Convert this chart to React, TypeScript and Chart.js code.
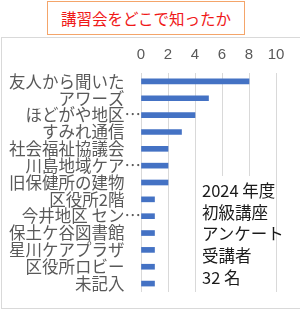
import React, { useEffect, useRef } from "react";
import { Chart, registerables } from "chart.js";

Chart.register(...registerables);

const title = "講習会をどこで知ったか";
const categories = [
  "友人から聞いた",
  "アワーズ",
  "ほどがや地区…",
  "すみれ通信",
  "社会福祉協議会",
  "川島地域ケア…",
  "旧保健所の建物",
  "区役所2階",
  "今井地区 セン…",
  "保土ケ谷図書館",
  "星川ケアプラザ",
  "区役所ロビー",
  "未記入",
];
const counts = [8, 5, 4, 3, 2, 2, 2, 1, 1, 1, 1, 1, 1];
const axisMin = 0;
const axisMax = 10;
const axisStep = 2;
const noteLines = ["2024 年度", "初級講座", "アンケート", "受講者", "32 名"];

const JP = "'Noto Sans CJK JP', 'Noto Sans', sans-serif";

export default function App() {
  const ref = useRef<HTMLCanvasElement | null>(null);

  useEffect(() => {
    if (!ref.current) return;
    const chart = new Chart(ref.current, {
      type: "bar",
      data: {
        labels: categories,
        datasets: [
          {
            data: counts,
            backgroundColor: "#4472C4",
            barThickness: 5,
          },
        ],
      },
      options: {
        indexAxis: "y",
        animation: false,
        responsive: true,
        maintainAspectRatio: false,
        layout: { padding: { top: 0, left: 0, right: 24, bottom: 16 } },
        plugins: {
          legend: { display: false },
          tooltip: { enabled: false },
        },
        scales: {
          x: {
            position: "top",
            min: axisMin,
            max: axisMax,
            ticks: {
              stepSize: axisStep,
              color: "#595959",
              padding: 9,
              font: { family: "'Liberation Sans Narrow', 'Liberation Sans', sans-serif", size: 15 },
            },
            grid: { color: "#d9d9d9", drawTicks: false, lineWidth: 1 },
            border: { display: false },
            afterFit: (scale: any) => {
              scale.height = 35;
            },
          },
          y: {
            ticks: {
              autoSkip: false,
              color: "#595959",
              padding: 0,
              font: { family: JP, size: 16.5 },
              callback: function (this: any, value: any) {
                const l = this.getLabelForValue(value) as string;
                return l.endsWith("…") ? l : l + "\u3000";
              },
            },
            grid: { display: false, drawTicks: false },
            border: { display: false },
            afterFit: (scale: any) => {
              scale.width = 141;
            },
          },
        },
      },
    });
    return () => chart.destroy();
  }, []);

  return (
    <div
      style={{
        position: "absolute",
        left: 0,
        top: 0,
        width: 300,
        height: 310,
        background: "#fff",
        overflow: "hidden",
      }}
    >
      <div
        style={{
          position: "absolute",
          left: 47,
          top: 1,
          width: 196,
          height: 32,
          border: "1px solid #F4A56A",
          color: "#F01818",
          fontFamily: JP,
          fontSize: 15.5,
          display: "flex",
          alignItems: "center",
          justifyContent: "center",
        }}
      >
        {title}
      </div>
      <div
        style={{
          position: "absolute",
          left: 1,
          top: 37,
          width: 310,
          height: 270,
          border: "1px solid #d9d9d9",
        }}
      />
      <div style={{ position: "absolute", left: 0, top: 38, width: 300, height: 270 }}>
        <canvas ref={ref} />
      </div>
      <div
        style={{
          position: "absolute",
          left: 199,
          top: 176,
          width: 75,
          height: 116,
          background: "#fff",
          fontFamily: JP,
          fontSize: 16.5,
          lineHeight: "21.7px",
          color: "#1a1a1a",
          paddingTop: 4,
          paddingLeft: 3,
          boxSizing: "border-box",
          whiteSpace: "nowrap",
        }}
      >
        {noteLines.map((t, i) => (
          <div key={i}>{t}</div>
        ))}
      </div>
    </div>
  );
}
